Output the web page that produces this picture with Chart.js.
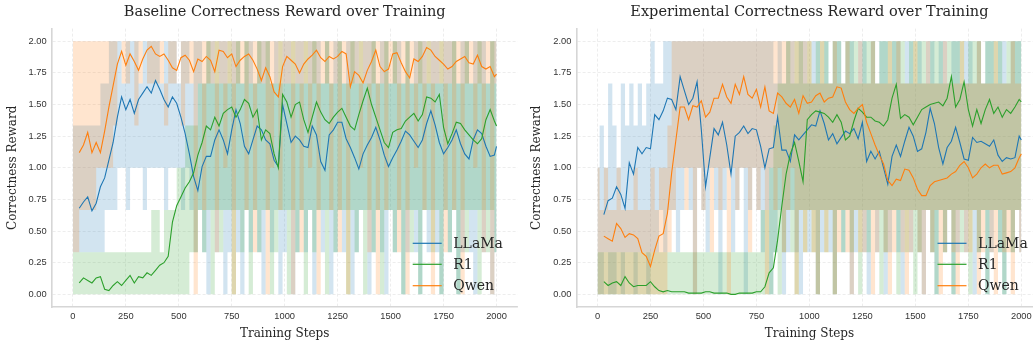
<!DOCTYPE html>
<html>
<head>
<meta charset="utf-8">
<script src="https://cdn.jsdelivr.net/npm/chart.js@4.4.1/dist/chart.umd.min.js"></script>
<style>
  html, body { margin: 0; padding: 0; background: #fff; overflow: hidden; }
  #wrap { position: relative; width: 1033px; height: 345px; overflow: hidden; }
  canvas { position: absolute; top: 0; }
  #left { left: 0; }
  #right { left: 517px; }
</style>
</head>
<body>
<div id="wrap">
  <canvas id="left" width="530" height="345"></canvas>
  <canvas id="right" width="540" height="345"></canvas>
</div>
<script>
'use strict'

// smoothed curves are sampled every 20 steps
const lineSteps = [
  30, 50, 70, 90, 110, 130, 150, 170, 190, 210,
  230, 250, 270, 290, 310, 330, 350, 370, 390, 410,
  430, 450, 470, 490, 510, 530, 550, 570, 590, 610,
  630, 650, 670, 690, 710, 730, 750, 770, 790, 810,
  830, 850, 870, 890, 910, 930, 950, 970, 990, 1010,
  1030, 1050, 1070, 1090, 1110, 1130, 1150, 1170, 1190, 1210,
  1230, 1250, 1270, 1290, 1310, 1330, 1350, 1370, 1390, 1410,
  1430, 1450, 1470, 1490, 1510, 1530, 1550, 1570, 1590, 1610,
  1630, 1650, 1670, 1690, 1710, 1730, 1750, 1770, 1790, 1810,
  1830, 1850, 1870, 1890, 1910, 1930, 1950, 1970, 1990, 2000
];

// raw reward spread (min / max), in thirds of a point
const bandSteps = [
  0, 20, 40, 60, 80, 100, 120, 140, 160, 180,
  200, 220, 240, 260, 280, 300, 320, 340, 360, 380,
  400, 420, 440, 460, 480, 500, 520, 540, 560, 580,
  600, 620, 640, 660, 680, 700, 720, 740, 760, 780,
  800, 820, 840, 860, 880, 900, 920, 940, 960, 980,
  1000, 1020, 1040, 1060, 1080, 1100, 1120, 1140, 1160, 1180,
  1200, 1220, 1240, 1260, 1280, 1300, 1320, 1340, 1360, 1380,
  1400, 1420, 1440, 1460, 1480, 1500, 1520, 1540, 1560, 1580,
  1600, 1620, 1640, 1660, 1680, 1700, 1720, 1740, 1760, 1780,
  1800, 1820, 1840, 1860, 1880, 1900, 1920, 1940, 1960, 1980,
  2000
];

const xTicks = [0, 250, 500, 750, 1000, 1250, 1500, 1750, 2000];
const yTicks = [0, 0.25, 0.5, 0.75, 1, 1.25, 1.5, 1.75, 2];
const modelNames = ['LLaMa', 'R1', 'Qwen'];

// ---- Baseline ----
const baseLlama = [
  0.68, 0.73, 0.77, 0.66, 0.72, 0.85, 0.92, 1.06, 1.20, 1.40,
  1.56, 1.46, 1.54, 1.43, 1.54, 1.59, 1.64, 1.59, 1.69, 1.62,
  1.54, 1.48, 1.56, 1.51, 1.40, 1.27, 1.11, 0.93, 0.82, 1.01,
  1.09, 1.09, 1.22, 1.30, 1.22, 1.11, 1.30, 1.46, 1.35, 1.17,
  1.11, 1.22, 1.33, 1.30, 1.22, 1.19, 1.06, 1.01, 1.50, 1.35,
  1.20, 1.25, 1.22, 1.17, 1.16, 1.33, 1.26, 1.05, 0.98, 1.26,
  1.30, 1.36, 1.36, 1.23, 1.16, 1.08, 0.99, 1.11, 1.18, 1.24,
  1.32, 1.22, 1.10, 1.01, 1.08, 1.14, 1.21, 1.29, 1.26, 1.21,
  1.16, 1.22, 1.35, 1.45, 1.34, 1.20, 1.11, 1.16, 1.22, 1.30,
  1.19, 1.11, 1.07, 1.22, 1.30, 1.27, 1.17, 1.09, 1.10, 1.17
];
const baseR1 = [
  0.09, 0.13, 0.11, 0.09, 0.13, 0.14, 0.04, 0.03, 0.07, 0.10,
  0.07, 0.11, 0.15, 0.09, 0.14, 0.13, 0.17, 0.15, 0.19, 0.23,
  0.25, 0.30, 0.57, 0.70, 0.77, 0.84, 0.89, 0.96, 1.10, 1.20,
  1.33, 1.30, 1.40, 1.33, 1.43, 1.46, 1.48, 1.40, 1.46, 1.54,
  1.51, 1.40, 1.46, 1.22, 1.30, 1.27, 1.11, 1.00, 1.58, 1.52,
  1.40, 1.50, 1.52, 1.38, 1.28, 1.40, 1.52, 1.44, 1.38, 1.35,
  1.40, 1.44, 1.47, 1.40, 1.33, 1.30, 1.42, 1.53, 1.63, 1.50,
  1.40, 1.30, 1.20, 1.16, 1.28, 1.30, 1.31, 1.37, 1.40, 1.43,
  1.37, 1.42, 1.56, 1.55, 1.52, 1.58, 1.32, 1.19, 1.27, 1.36,
  1.35, 1.30, 1.26, 1.22, 1.19, 1.23, 1.38, 1.46, 1.37, 1.33
];
const baseQwen = [
  1.12, 1.18, 1.28, 1.12, 1.20, 1.12, 1.29, 1.48, 1.65, 1.82,
  1.92, 1.81, 1.90, 1.84, 1.77, 1.86, 1.93, 1.96, 1.90, 1.88,
  1.90, 1.85, 1.79, 1.77, 1.87, 1.89, 1.85, 1.76, 1.86, 1.84,
  1.88, 1.85, 1.76, 1.93, 1.92, 1.87, 1.90, 1.80, 1.85, 1.88,
  1.90, 1.85, 1.78, 1.69, 1.79, 1.72, 1.60, 1.56, 1.80, 1.88,
  1.85, 1.82, 1.75, 1.82, 1.86, 1.89, 1.93, 1.87, 1.84, 1.88,
  1.86, 1.88, 1.92, 1.90, 1.64, 1.76, 1.73, 1.67, 1.77, 1.84,
  1.93, 1.80, 1.76, 1.78, 1.90, 1.91, 1.83, 1.76, 1.71, 1.86,
  1.84, 1.88, 1.95, 1.93, 1.88, 1.85, 1.82, 1.78, 1.80, 1.84,
  1.86, 1.88, 1.83, 1.82, 1.89, 1.80, 1.78, 1.80, 1.72, 1.74
];

const baseLlamaLow = [
  1, 1, 1, 1, 1, 1, 1, 1, 2, 2,
  2, 3, 3, 2, 3, 3, 3, 2, 3, 3,
  3, 3, 2, 3, 3, 3, 2, 3, 2, 1,
  2, 1, 0, 2, 1, 2, 0, 1, 2, 1,
  0, 2, 1, 2, 1, 0, 2, 1, 2, 0,
  1, 2, 0, 1, 2, 1, 2, 0, 2, 1,
  2, 0, 1, 2, 1, 2, 0, 1, 2, 2,
  0, 1, 2, 1, 0, 2, 1, 2, 0, 1,
  2, 1, 0, 2, 1, 2, 1, 0, 2, 1,
  2, 0, 1, 2, 1, 0, 2, 1, 2, 0,
  1
];
const baseLlamaHigh = [
  4, 4, 4, 4, 4, 4, 4, 5, 5, 6,
  6, 6, 5, 6, 6, 6, 5, 6, 6, 6,
  6, 5, 6, 6, 6, 5, 6, 6, 5, 6,
  6, 5, 6, 6, 5, 6, 6, 5, 6, 6,
  5, 6, 6, 5, 6, 6, 6, 5, 6, 5,
  6, 6, 5, 6, 6, 5, 6, 6, 6, 5,
  6, 5, 6, 6, 5, 6, 6, 6, 5, 6,
  6, 6, 5, 6, 6, 5, 6, 6, 5, 6,
  5, 6, 6, 6, 5, 6, 6, 5, 6, 6,
  6, 5, 6, 6, 5, 6, 6, 6, 5, 6,
  6
];
const baseR1Low = [
  0, 0, 0, 0, 0, 0, 0, 0, 0, 0,
  0, 0, 0, 0, 0, 0, 0, 0, 0, 0,
  0, 0, 0, 0, 0, 0, 0, 0, 1, 1,
  2, 1, 2, 0, 2, 1, 2, 2, 0, 2,
  1, 2, 0, 2, 1, 2, 2, 0, 1, 2,
  2, 0, 2, 1, 2, 0, 2, 1, 2, 2,
  0, 2, 1, 2, 2, 0, 2, 1, 2, 0,
  2, 1, 2, 0, 2, 2, 1, 2, 0, 2,
  1, 2, 0, 2, 2, 1, 2, 0, 2, 1,
  2, 0, 2, 1, 2, 2, 0, 2, 1, 2,
  1
];
const baseR1High = [
  1, 1, 1, 1, 1, 1, 1, 1, 1, 1,
  1, 1, 1, 1, 1, 1, 1, 1, 1, 2,
  2, 1, 2, 2, 2, 3, 3, 4, 4, 4,
  5, 5, 6, 5, 6, 5, 5, 6, 5, 6,
  5, 6, 5, 5, 6, 5, 6, 5, 5, 6,
  5, 5, 6, 5, 5, 6, 5, 6, 5, 5,
  6, 5, 5, 6, 5, 5, 6, 5, 6, 5,
  5, 6, 5, 5, 6, 5, 6, 5, 5, 6,
  5, 5, 6, 5, 6, 5, 5, 6, 5, 5,
  6, 5, 5, 6, 5, 5, 6, 5, 5, 6,
  5
];
const baseQwenLow = [
  1, 1, 2, 2, 2, 2, 3, 3, 3, 3,
  4, 5, 5, 5, 5, 4, 5, 5, 5, 5,
  5, 5, 4, 5, 5, 5, 4, 5, 5, 0,
  5, 2, 5, 5, 1, 5, 3, 5, 0, 5,
  5, 2, 5, 1, 5, 5, 0, 3, 5, 2,
  5, 5, 0, 5, 1, 5, 3, 5, 0, 5,
  5, 2, 5, 1, 5, 0, 5, 5, 3, 5,
  1, 5, 0, 5, 2, 5, 5, 1, 5, 0,
  5, 3, 5, 2, 5, 0, 5, 5, 1, 5,
  2, 5, 0, 5, 5, 3, 5, 1, 5, 0,
  5
];
const baseQwenHigh = [
  6, 6, 6, 6, 6, 6, 6, 6, 6, 6,
  6, 5, 6, 6, 5, 6, 6, 5, 6, 6,
  6, 6, 5, 6, 6, 5, 6, 6, 6, 6,
  6, 6, 6, 6, 6, 6, 6, 6, 6, 6,
  6, 6, 6, 6, 6, 6, 6, 6, 6, 6,
  6, 6, 6, 6, 6, 6, 6, 6, 6, 6,
  6, 6, 6, 6, 6, 6, 6, 6, 6, 6,
  6, 6, 6, 6, 6, 6, 6, 6, 6, 6,
  6, 6, 6, 6, 6, 6, 6, 6, 6, 6,
  6, 6, 6, 6, 6, 6, 6, 6, 6, 6,
  6
];

// ---- Experimental ----
const expLlama = [
  0.63, 0.74, 0.76, 0.85, 0.79, 0.68, 1.04, 0.95, 1.16, 1.11,
  1.16, 1.15, 1.42, 1.38, 1.45, 1.55, 1.54, 1.46, 1.72, 1.61,
  1.50, 1.55, 1.68, 1.30, 0.85, 1.08, 1.31, 1.26, 1.36, 1.18,
  0.95, 1.25, 1.28, 1.33, 1.27, 1.31, 1.30, 1.17, 1.00, 1.15,
  1.16, 1.40, 1.14, 1.14, 1.05, 1.26, 1.22, 1.26, 1.30, 1.34,
  1.33, 1.45, 1.35, 1.22, 1.27, 1.19, 1.24, 1.29, 1.27, 1.31,
  1.23, 1.36, 1.05, 1.13, 1.07, 1.13, 1.00, 0.87, 1.09, 1.18,
  1.09, 1.21, 1.32, 1.25, 1.13, 1.15, 1.28, 1.47, 1.35, 1.16,
  1.03, 1.16, 1.21, 1.32, 1.20, 1.07, 1.06, 1.24, 1.20, 1.21,
  1.19, 1.17, 1.22, 1.10, 1.05, 1.08, 1.07, 1.08, 1.25, 1.22
];
const expR1 = [
  0.10, 0.07, 0.09, 0.10, 0.07, 0.14, 0.09, 0.06, 0.07, 0.07,
  0.07, 0.10, 0.06, 0.03, 0.02, 0.03, 0.02, 0.02, 0.02, 0.02,
  0.01, 0.01, 0.01, 0.01, 0.02, 0.02, 0.01, 0.01, 0.01, 0.01,
  0.00, 0.00, 0.01, 0.01, 0.01, 0.01, 0.02, 0.02, 0.06, 0.17,
  0.21, 0.43, 0.70, 0.95, 1.11, 1.20, 1.05, 0.89, 1.38, 1.42,
  1.45, 1.44, 1.43, 1.40, 1.36, 1.42, 1.36, 1.22, 1.25, 1.37,
  1.47, 1.44, 1.40, 1.40, 1.37, 1.36, 1.33, 1.38, 1.55, 1.66,
  1.39, 1.42, 1.40, 1.34, 1.40, 1.46, 1.48, 1.50, 1.51, 1.52,
  1.49, 1.55, 1.72, 1.48, 1.54, 1.68, 1.46, 1.33, 1.46, 1.35,
  1.46, 1.54, 1.43, 1.48, 1.40, 1.46, 1.43, 1.48, 1.54, 1.52
];
const expQwen = [
  0.46, 0.44, 0.42, 0.56, 0.52, 0.45, 0.48, 0.47, 0.44, 0.33,
  0.30, 0.22, 0.35, 0.46, 0.48, 0.64, 0.96, 1.22, 1.48, 1.48,
  1.38, 1.49, 1.48, 1.53, 1.40, 1.44, 1.55, 1.55, 1.66, 1.56,
  1.51, 1.66, 1.58, 1.72, 1.58, 1.55, 1.62, 1.48, 1.64, 1.45,
  1.43, 1.59, 1.56, 1.51, 1.48, 1.54, 1.43, 1.57, 1.51, 1.52,
  1.57, 1.59, 1.52, 1.55, 1.56, 1.64, 1.63, 1.52, 1.46, 1.43,
  1.47, 1.50, 1.36, 1.27, 1.18, 1.10, 1.03, 0.90, 0.86, 0.91,
  0.90, 0.99, 0.98, 0.92, 0.83, 0.78, 0.78, 0.86, 0.89, 0.90,
  0.91, 0.92, 0.95, 0.97, 1.02, 1.05, 1.00, 0.92, 0.95, 1.00,
  1.03, 1.00, 1.02, 1.02, 0.95, 0.96, 0.97, 1.00, 1.08, 1.11
];

const expLlamaLow = [
  0, 0, 1, 0, 0, 1, 0, 1, 1, 0,
  1, 1, 0, 1, 1, 2, 1, 2, 2, 1,
  2, 3, 2, 0, 3, 2, 1, 3, 2, 0,
  2, 3, 1, 2, 3, 0, 2, 3, 2, 1,
  2, 0, 1, 2, 0, 1, 2, 1, 0, 2,
  1, 2, 0, 1, 2, 1, 0, 2, 1, 2,
  0, 1, 2, 1, 0, 2, 1, 2, 0, 1,
  2, 1, 0, 2, 1, 2, 1, 0, 2, 1,
  0, 2, 1, 2, 0, 1, 2, 1, 2, 0,
  1, 2, 0, 1, 2, 1, 0, 2, 1, 2,
  1
];
const expLlamaHigh = [
  3, 4, 3, 5, 4, 3, 5, 4, 5, 4,
  5, 4, 5, 6, 5, 5, 6, 6, 6, 6,
  6, 6, 6, 6, 6, 6, 6, 6, 6, 6,
  6, 6, 6, 6, 6, 6, 6, 6, 6, 6,
  6, 6, 5, 6, 5, 6, 6, 5, 6, 6,
  5, 6, 6, 5, 6, 5, 6, 6, 5, 6,
  6, 5, 6, 6, 5, 6, 5, 6, 6, 5,
  6, 6, 5, 6, 6, 5, 6, 5, 6, 6,
  5, 6, 6, 5, 6, 6, 5, 6, 6, 5,
  6, 5, 6, 6, 5, 6, 6, 5, 6, 6,
  6
];
const expR1Low = [
  0, 0, 0, 0, 0, 0, 0, 0, 0, 0,
  0, 0, 0, 0, 0, 0, 0, 0, 0, 0,
  0, 0, 0, 0, 0, 0, 0, 0, 0, 0,
  0, 0, 0, 0, 0, 0, 0, 0, 0, 0,
  0, 0, 1, 0, 1, 2, 1, 0, 2, 1,
  2, 1, 0, 2, 1, 2, 0, 2, 1, 2,
  1, 2, 0, 2, 1, 2, 2, 0, 1, 2,
  2, 0, 2, 1, 2, 0, 1, 2, 2, 1,
  0, 2, 1, 2, 0, 2, 1, 2, 0, 2,
  1, 2, 0, 2, 2, 1, 0, 2, 1, 2,
  2
];
const expR1High = [
  1, 1, 1, 1, 1, 1, 1, 1, 1, 1,
  1, 1, 1, 1, 1, 1, 1, 1, 1, 1,
  1, 1, 1, 1, 1, 1, 1, 1, 1, 1,
  1, 1, 1, 1, 1, 1, 1, 1, 1, 2,
  2, 3, 4, 5, 5, 6, 5, 6, 6, 5,
  6, 5, 6, 6, 6, 5, 6, 6, 5, 6,
  6, 6, 5, 6, 6, 6, 5, 6, 6, 6,
  6, 6, 6, 5, 6, 6, 6, 6, 5, 6,
  6, 6, 5, 6, 6, 6, 6, 5, 6, 6,
  6, 5, 6, 6, 6, 6, 5, 6, 6, 6,
  6
];
const expQwenLow = [
  0, 0, 0, 0, 0, 0, 0, 0, 0, 0,
  0, 0, 0, 0, 0, 0, 0, 1, 2, 3,
  3, 2, 3, 0, 3, 2, 3, 1, 3, 2,
  3, 0, 3, 2, 3, 3, 1, 3, 2, 3,
  0, 3, 2, 3, 1, 2, 3, 0, 2, 1,
  2, 1, 0, 2, 1, 2, 0, 1, 2, 1,
  0, 2, 1, 1, 2, 0, 1, 2, 1, 0,
  1, 2, 1, 0, 1, 2, 1, 0, 2, 1,
  2, 0, 1, 2, 1, 0, 2, 1, 1, 2,
  0, 1, 2, 1, 0, 2, 1, 1, 0, 2,
  1
];
const expQwenHigh = [
  3, 2, 3, 2, 2, 3, 2, 2, 2, 3,
  2, 2, 2, 3, 2, 3, 3, 4, 6, 6,
  6, 6, 6, 6, 6, 6, 6, 6, 6, 6,
  6, 6, 6, 6, 6, 6, 6, 6, 6, 6,
  6, 6, 6, 6, 6, 6, 6, 6, 6, 6,
  6, 5, 5, 6, 5, 5, 6, 5, 5, 6,
  5, 5, 6, 5, 5, 6, 5, 5, 5, 6,
  5, 6, 5, 5, 5, 6, 5, 5, 6, 5,
  5, 5, 6, 5, 5, 5, 6, 5, 5, 5,
  6, 5, 5, 5, 6, 5, 5, 5, 6, 5,
  5
];

const colors = ['#1f77b4', '#2ca02c', '#ff7f0e'];
const bandColors = ['rgba(31,119,180,0.2)', 'rgba(44,160,44,0.2)', 'rgba(255,127,14,0.2)'];

const serif = '"DejaVu Serif", "Liberation Serif", serif';
const sans = '"Liberation Sans", Arial, sans-serif';

function linePoints(vals) {
    return lineSteps.map((s, i) => ({ x: s, y: vals[i] }));
}
function bandPoints(thirds) {
    return bandSteps.map((s, i) => ({ x: s, y: thirds[i] / 3 }));
}

// titles, axis labels and legend drawn around the plot area
const decor = {
    id: 'decor',
    afterDraw(chart) {
        const ctx = chart.ctx;
        const a = chart.chartArea;
        const opts = chart.options.plugins.decor;
        const cx = (a.left + a.right) / 2;
        ctx.save();
        ctx.fillStyle = '#262626';
        ctx.textAlign = 'center';
        ctx.textBaseline = 'middle';
        ctx.font = '14.5px ' + serif;
        ctx.fillText(opts.title, cx, 12);
        ctx.font = '12px ' + serif;
        ctx.fillText('Training Steps', cx, 334);
        ctx.save();
        ctx.translate(a.left - 39.3, (a.top + a.bottom) / 2);
        ctx.rotate(-Math.PI / 2);
        ctx.fillText('Correctness Reward', 0, 0);
        ctx.restore();

        ctx.font = '14px ' + serif;
        ctx.textAlign = 'left';
        const rows = [63.7, 42.7, 21.3];
        modelNames.forEach((name, i) => {
            const y = a.bottom - rows[i];
            ctx.strokeStyle = colors[i];
            ctx.lineWidth = 1.2;
            ctx.beginPath();
            ctx.moveTo(a.right - 105, y);
            ctx.lineTo(a.right - 76, y);
            ctx.stroke();
            ctx.fillStyle = '#262626';
            ctx.fillText(name, a.right - 64.4, y + 1);
        });
        ctx.restore();
    }
};

function makePanel(canvasId, title, lines, bands, geom) {
    const datasets = [];
    // first dataset is drawn on top: Qwen, R1, LLaMa lines, then bands
    [2, 1, 0].forEach(i => {
        datasets.push({
            data: linePoints(lines[i]),
            borderColor: colors[i],
            borderWidth: 1.1,
            pointRadius: 0,
            tension: 0,
            fill: false
        });
    });
    [2, 1, 0].forEach(i => {
        const lowIndex = datasets.length;
        datasets.push({
            data: bandPoints(bands[i][0]),
            borderColor: 'rgba(0,0,0,0)',
            borderWidth: 0,
            pointRadius: 0,
            stepped: 'middle',
            fill: false
        });
        datasets.push({
            data: bandPoints(bands[i][1]),
            borderColor: 'rgba(0,0,0,0)',
            borderWidth: 0,
            pointRadius: 0,
            stepped: 'middle',
            backgroundColor: bandColors[i],
            fill: lowIndex
        });
    });

    new Chart(document.getElementById(canvasId).getContext('2d'), {
        type: 'line',
        data: { datasets: datasets },
        options: {
            responsive: false,
            animation: false,
            layout: { padding: { left: 0, top: 28.6, right: geom.padRight, bottom: 0 } },
            plugins: {
                legend: { display: false },
                tooltip: { enabled: false },
                decor: { title: title }
            },
            scales: {
                x: {
                    type: 'linear',
                    min: -100,
                    max: 2100,
                    afterBuildTicks: s => { s.ticks = xTicks.map(v => ({ value: v })); },
                    afterFit: s => { s.height = 38; },
                    ticks: {
                        autoSkip: false,
                        maxRotation: 0,
                        padding: 4,
                        color: '#333',
                        font: { family: sans, size: 9.3 },
                        callback: v => String(v)
                    },
                    grid: { color: '#e8e8e8', lineWidth: 0.8, drawTicks: false },
                    border: { display: true, color: '#d6d6d6', width: 1.6, dash: [3, 2] }
                },
                y: {
                    min: -0.1,
                    max: 2.1,
                    afterBuildTicks: s => { s.ticks = yTicks.map(v => ({ value: v })); },
                    afterFit: s => { s.width = geom.yWidth; },
                    ticks: {
                        padding: 5,
                        color: '#333',
                        font: { family: sans, size: 9.3 },
                        callback: v => v.toFixed(2)
                    },
                    grid: { color: '#e8e8e8', lineWidth: 0.8, drawTicks: false },
                    border: { display: true, color: '#d6d6d6', width: 1.6, dash: [3, 2] }
                }
            }
        },
        plugins: [decor]
    });
}

document.addEventListener('DOMContentLoaded', function() {
    makePanel('left', 'Baseline Correctness Reward over Training',
        [baseLlama, baseR1, baseQwen],
        [[baseLlamaLow, baseLlamaHigh], [baseR1Low, baseR1High], [baseQwenLow, baseQwenHigh]],
        { yWidth: 51.7, padRight: 12.3 });
    makePanel('right', 'Experimental Correctness Reward over Training',
        [expLlama, expR1, expQwen],
        [[expLlamaLow, expLlamaHigh], [expR1Low, expR1High], [expQwenLow, expQwenHigh]],
        { yWidth: 59.3, padRight: 14.5 });
});
</script>
</body>
</html>
